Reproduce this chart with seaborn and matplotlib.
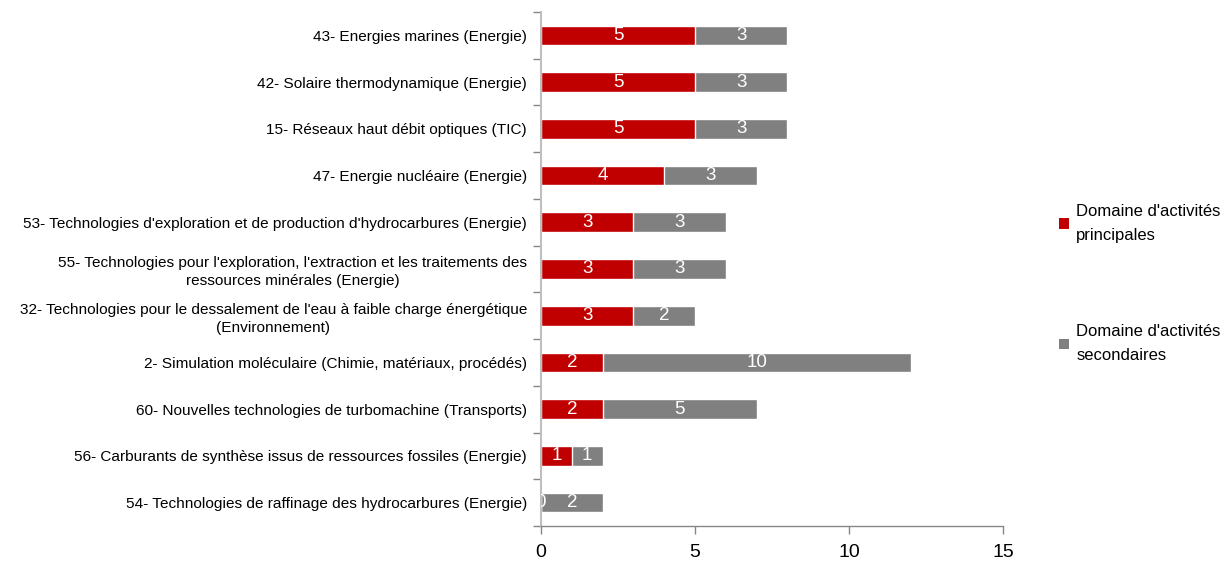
import matplotlib
matplotlib.use("Agg")
import matplotlib.pyplot as plt
import seaborn as sns
import pandas as pd
import numpy as np
from matplotlib.patches import Patch
from matplotlib.ticker import FixedLocator

categories = [
    "43- Energies marines (Energie)",
    "42- Solaire thermodynamique (Energie)",
    "15- Réseaux haut débit optiques (TIC)",
    "47- Energie nucléaire (Energie)",
    "53- Technologies d'exploration et de production d'hydrocarbures (Energie)",
    "55- Technologies pour l'exploration, l'extraction et les traitements des\nressources minérales (Energie)",
    "32- Technologies pour le dessalement de l'eau à faible charge énergétique\n(Environnement)",
    "2- Simulation moléculaire (Chimie, matériaux, procédés)",
    "60- Nouvelles technologies de turbomachine (Transports)",
    "56- Carburants de synthèse issus de ressources fossiles (Energie)",
    "54- Technologies de raffinage des hydrocarbures (Energie)",
]
principales = [5, 5, 5, 4, 3, 3, 3, 2, 2, 1, 0]
secondaires = [3, 3, 3, 3, 3, 3, 2, 10, 5, 1, 2]
series_names = ["Domaine d'activités\nprincipales", "Domaine d'activités\nsecondaires"]
x_ticks = [0, 5, 10, 15]

RED = "#C00000"
GRAY = "#808080"

sns.set_theme(style="white")
plt.rcParams['font.family'] = ['Liberation Sans', 'DejaVu Sans']

df = pd.DataFrame({"cat": categories, "p": principales, "s": secondaires})
df["total"] = df["p"] + df["s"]

fig = plt.figure(figsize=(12.22, 5.62), dpi=100)
ax = fig.add_axes([541/1222, 1-526/562, (1003-541)/1222, (526-12)/562])

sns.barplot(data=df, x="total", y="cat", color=GRAY, saturation=1, width=0.42, ax=ax, orient="h")
sns.barplot(data=df, x="p", y="cat", color=RED, saturation=1, width=0.42, ax=ax, orient="h")

for i, (p, s) in enumerate(zip(principales, secondaires)):
    ax.text(p/2, i, str(p), color="white", ha="center", va="center", fontsize=13.5, clip_on=True)
    ax.text(p + s/2, i, str(s), color="white", ha="center", va="center", fontsize=13.5, clip_on=True)

ax.set_xlim(0, 15)
ax.set_ylim(len(categories)-0.5, -0.5)
ax.set_xticks(x_ticks)
ax.set_xticklabels([str(t) for t in x_ticks], fontsize=14, color="black")
ax.set_xlabel("")
ax.set_ylabel("")
ax.set_yticks(range(len(categories)))
ax.set_yticklabels(categories, fontsize=11.1, ha="right", color="black")
for lab in ax.get_yticklabels():
    lab.set_multialignment("center")
    lab.set_linespacing(1.3)
ax.tick_params(axis="y", which="major", length=0, pad=10)
ax.yaxis.set_minor_locator(FixedLocator(np.arange(-0.5, len(categories), 1)))
ax.tick_params(axis="y", which="minor", length=6, color="#868686", width=1, left=True)
ax.tick_params(axis="x", which="major", length=6, color="#868686", width=1, bottom=True, direction="out", pad=7)

for sp in ["top", "right"]:
    ax.spines[sp].set_visible(False)
ax.spines["left"].set_color("#BFBFBF")
ax.spines["left"].set_linewidth(1.5)
ax.spines["bottom"].set_color("#868686")
ax.spines["bottom"].set_linewidth(1)

handles = [Patch(facecolor=RED, edgecolor="none"), Patch(facecolor=GRAY, edgecolor="none")]
leg = fig.legend(handles, series_names, loc="upper left", bbox_to_anchor=(1052/1222, 1-197/562),
                 frameon=False, fontsize=12, handlelength=0.6, handleheight=0.6,
                 handletextpad=0.45, labelspacing=4.9, borderaxespad=0,
                 prop={"size": 12})
for t in leg.get_texts():
    t.set_linespacing(1.75)
    t.set_color("black")

fig.savefig("out.png", dpi=100)
